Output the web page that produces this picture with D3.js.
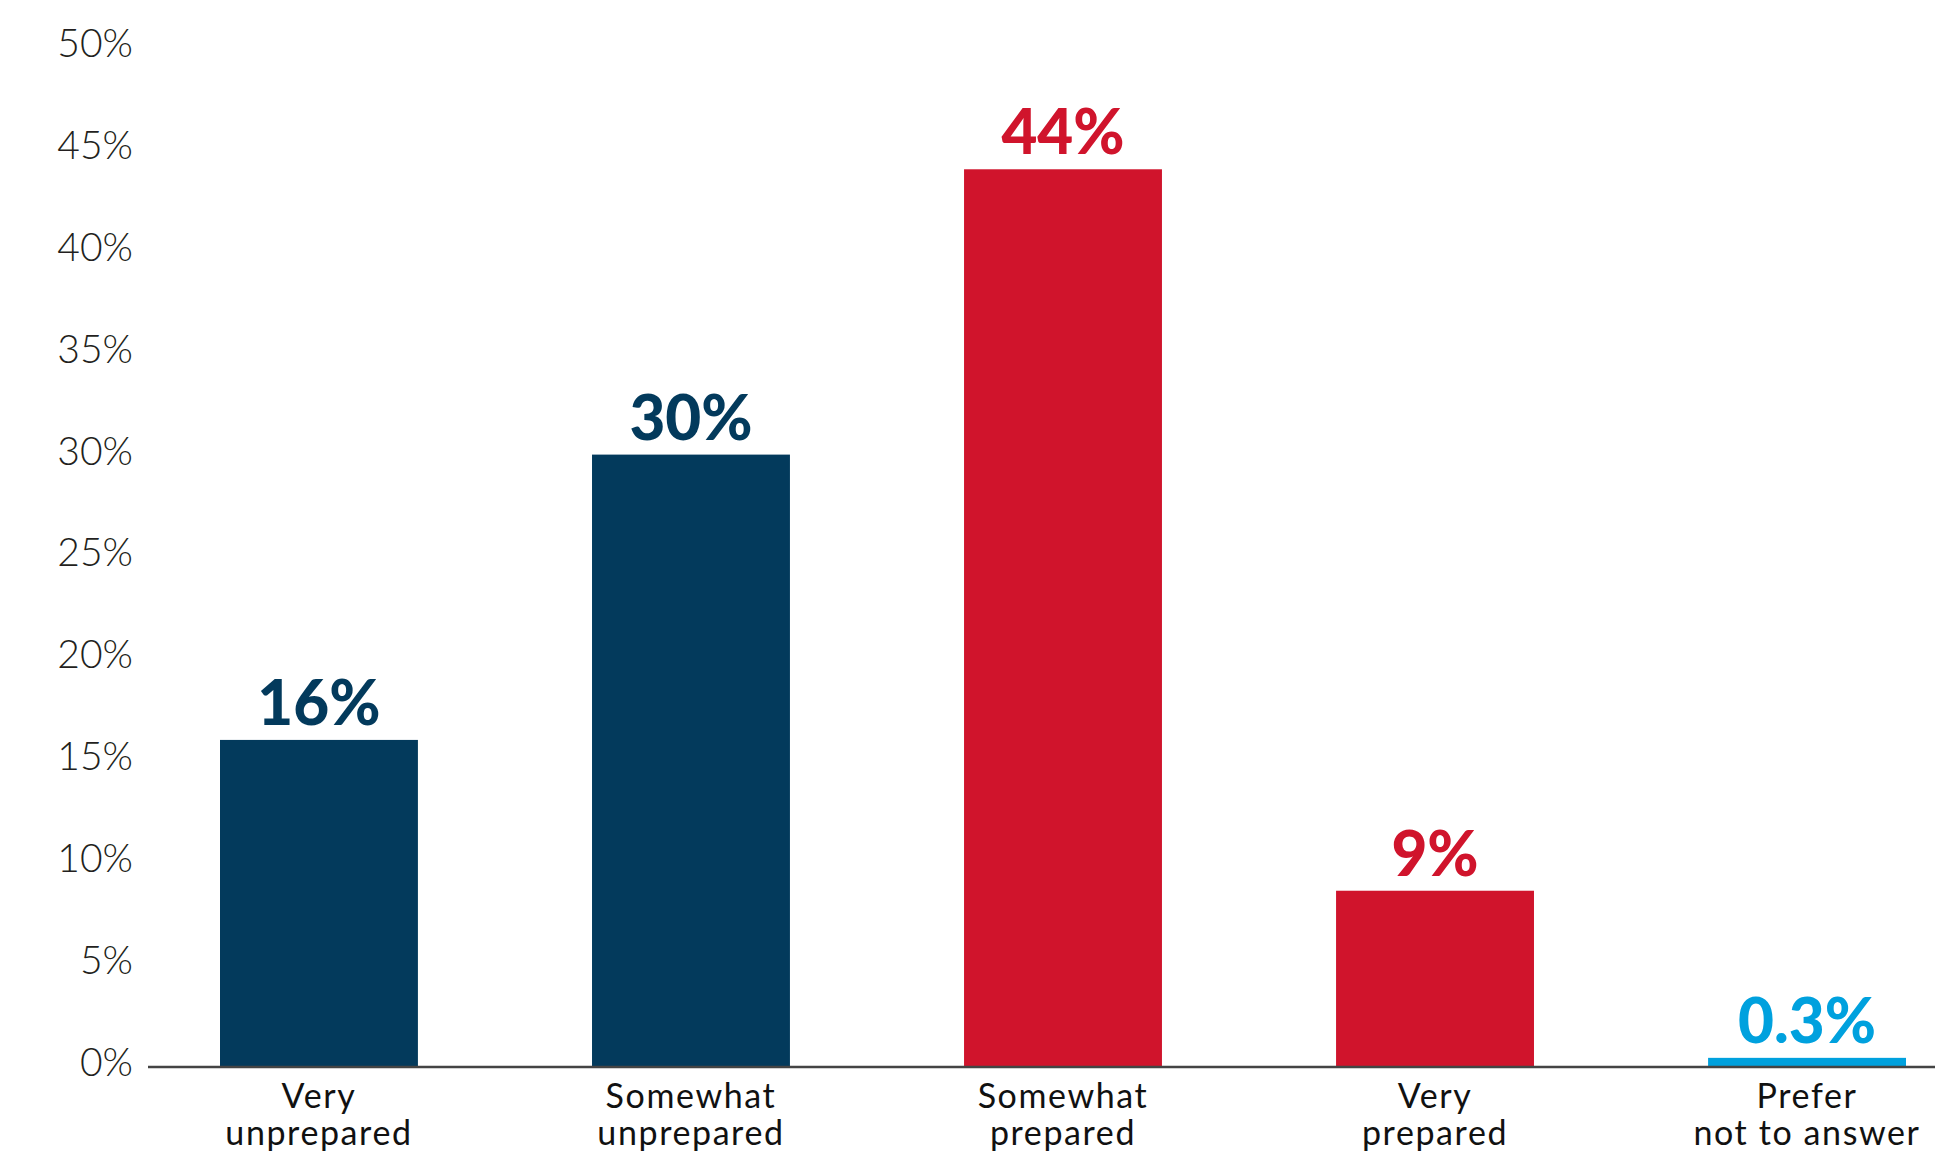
<!DOCTYPE html>
<html>
<head>
<meta charset="utf-8">
<script src="https://cdn.jsdelivr.net/npm/d3@7"></script>
<style>
  body { margin: 0; background: #fff; }
  svg { display: block; }
</style>
</head>
<body>
<div class="svg-container"></div>
<script>
// chart data
const categories = ['Very\nunprepared', 'Somewhat\nunprepared', 'Somewhat\nprepared', 'Very\nprepared', 'Prefer\nnot to answer']
const values = [16, 30, 44, 8.6, 0.4]
const valueLabels = ['16%', '30%', '44%', '9%', '0.3%']
const barColors = ['#033a5c', '#033a5c', '#d0142c', '#d0142c', '#00a1de']
const yTicks = [0, 5, 10, 15, 20, 25, 30, 35, 40, 45, 50]

const width = 1935
const height = 1155
const margin = { top: 47, right: 29, bottom: 89, left: 220 }
const axisLeft = 148

const svg = d3.select('.svg-container').append('svg')
    .attr('width', width)
    .attr('height', height)

const y = d3.scaleLinear()
    .domain([0, 50])
    .range([height - margin.bottom, margin.top])

const x = d3.scaleBand()
    .domain(categories)
    .range([margin.left, width - margin.right])
    .paddingInner(0.468)
    .paddingOuter(0)

// y axis
const groupY = svg.append('g')
    .attr('transform', `translate(${axisLeft},0)`)
    .call(d3.axisLeft(y).tickValues(yTicks).tickSize(0).tickPadding(15).tickFormat(d => d + '%'))
groupY.select('.domain').remove()
groupY.selectAll('text')
    .attr('dy', '0.32em')
    .attr('y', -3)
    .style('font-family', 'Lato, sans-serif')
    .style('font-weight', 300)
    .style('font-size', '39px')
    .style('fill', '#231f20')

// bars
svg.selectAll('rect.bar')
    .data(values)
    .enter()
    .append('rect')
    .attr('class', 'bar')
    .attr('x', (d, i) => x(categories[i]))
    .attr('y', d => y(d))
    .attr('width', x.bandwidth())
    .attr('height', d => y(0) - y(d))
    .style('fill', (d, i) => barColors[i])

// value labels
svg.selectAll('text.value')
    .data(values)
    .enter()
    .append('text')
    .attr('class', 'value')
    .attr('x', (d, i) => x(categories[i]) + x.bandwidth() / 2)
    .attr('y', d => y(d) - 15)
    .attr('text-anchor', 'middle')
    .text((d, i) => valueLabels[i])
    .style('font-family', 'Lato, sans-serif')
    .style('font-weight', 900)
    .style('font-size', '62px')
    .style('fill', (d, i) => barColors[i])

// baseline
svg.append('line')
    .attr('x1', axisLeft)
    .attr('x2', width)
    .attr('y1', y(0) + 1)
    .attr('y2', y(0) + 1)
    .style('stroke', '#444')
    .style('stroke-width', 2.5)

// x axis labels
const groupX = svg.append('g')
    .attr('transform', `translate(0,${y(0)})`)
    .call(d3.axisBottom(x).tickSize(0).tickFormat(''))
groupX.select('.domain').remove()
groupX.selectAll('.tick').append('text')
    .attr('text-anchor', 'middle')
    .style('font-family', 'Lato, sans-serif')
    .style('font-weight', 400)
    .style('font-size', '34px')
    .style('letter-spacing', '1.6px')
    .style('fill', '#111')
    .selectAll('tspan')
    .data(d => d.split('\n'))
    .enter()
    .append('tspan')
    .attr('x', 0)
    .attr('y', (d, i) => 42 + i * 37)
    .text(d => d)
</script>
</body>
</html>
